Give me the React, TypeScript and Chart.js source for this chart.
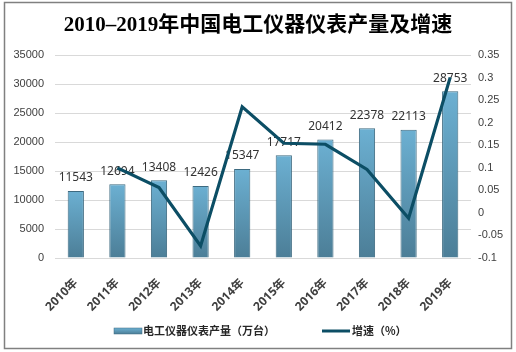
import React, { useEffect, useRef } from "react";
import { Chart, registerables } from "chart.js";

Chart.register(...registerables);

const title = "2010–2019年中国电工仪器仪表产量及增速";
const categories = ["2010年", "2011年", "2012年", "2013年", "2014年", "2015年", "2016年", "2017年", "2018年", "2019年"];
const output = [11543, 12694, 13408, 12426, 15347, 17717, 20412, 22378, 22113, 28753];
const growth = [null, 0.0997, 0.0562, -0.0732, 0.2351, 0.1544, 0.1521, 0.0963, -0.0118, 0.3003];
const barLabel = "电工仪器仪表产量（万台）";
const lineLabel = "增速（%）";

const LINE_COLOR = "#0c4e65";
const BAR_TOP = "#6cb0d2";
const BAR_BOTTOM = "#4c7e97";
const BAR_BORDER = "#3d6a80";

function makeGrad(ctx: CanvasRenderingContext2D, y0: number, y1: number) {
  const g = ctx.createLinearGradient(0, y0, 0, y1);
  g.addColorStop(0, BAR_TOP);
  g.addColorStop(1, BAR_BOTTOM);
  return g;
}

const decor = {
  id: "decor",
  beforeDraw(chart: any) {
    const ctx = chart.ctx;
    ctx.save();
    ctx.fillStyle = "#ffffff";
    ctx.fillRect(0, 0, chart.width, chart.height);
    ctx.restore();
  },
  afterDatasetDraw(chart: any, args: any) {
    if (args.meta.type !== "bar") return;
    const ctx = chart.ctx;
    ctx.save();
    ctx.font = "12px 'Noto Sans'";
    ctx.fillStyle = "#333333";
    ctx.textAlign = "center";
    ctx.textBaseline = "middle";
    args.meta.data.forEach((el: any, i: number) => {
      ctx.fillText(String(output[i]), el.x, el.y - 13);
    });
    ctx.restore();
  },
  afterDraw(chart: any) {
    const ctx = chart.ctx;
    ctx.save();
    // border
    ctx.strokeStyle = "#808080";
    ctx.lineWidth = 1.5;
    ctx.strokeRect(4.5, 2.5, 507, 346);
    // title
    ctx.fillStyle = "#000000";
    ctx.font = "bold 21px 'Liberation Serif', 'Noto Sans CJK SC'";
    ctx.textAlign = "center";
    ctx.textBaseline = "middle";
    ctx.fillText(title, 258, 26);
    // legend
    ctx.fillStyle = makeGrad(ctx, 328, 334);
    ctx.fillRect(114, 328, 28, 6);
    ctx.strokeStyle = BAR_BORDER;
    ctx.lineWidth = 0.5;
    ctx.strokeRect(114, 328, 28, 6);
    ctx.font = "bold 11px 'Noto Sans CJK SC'";
    ctx.fillStyle = "#262626";
    ctx.textAlign = "left";
    ctx.fillText(barLabel, 143, 331);
    ctx.strokeStyle = LINE_COLOR;
    ctx.lineWidth = 3;
    ctx.beginPath();
    ctx.moveTo(322, 331);
    ctx.lineTo(350, 331);
    ctx.stroke();
    ctx.fillText(lineLabel, 352, 331);
    ctx.restore();
  },
};

export default function App() {
  const ref = useRef<HTMLCanvasElement | null>(null);
  useEffect(() => {
    document.body.style.margin = "0";
    const canvas = ref.current!;
    const chart = new Chart(canvas, {
      type: "bar",
      data: {
        labels: categories,
        datasets: [
          {
            type: "line",
            label: lineLabel,
            data: growth as any,
            yAxisID: "y1",
            borderColor: LINE_COLOR,
            backgroundColor: LINE_COLOR,
            borderWidth: 3.2,
            pointRadius: 0,
            tension: 0,
            borderJoinStyle: "miter",
            order: 0,
          } as any,
          {
            type: "bar",
            label: barLabel,
            data: output,
            yAxisID: "y",
            backgroundColor: (c: any) => {
              const chart = c.chart;
              if (!chart.chartArea || c.raw == null) return BAR_TOP;
              const yTop = chart.scales.y.getPixelForValue(c.raw);
              const yBot = chart.scales.y.getPixelForValue(0);
              return makeGrad(chart.ctx, yTop, yBot);
            },
            borderColor: BAR_BORDER,
            borderWidth: 1,
            categoryPercentage: 1,
            barPercentage: 0.39,
            order: 1,
          } as any,
        ],
      },
      options: {
        responsive: false,
        animation: false,
        devicePixelRatio: 1,
        layout: { padding: { top: 55, left: 0, right: 0, bottom: 0 } },
        plugins: {
          legend: { display: false },
          title: { display: false },
          tooltip: { enabled: false },
        },
        scales: {
          x: {
            grid: { display: false },
            border: { display: false },
            ticks: {
              minRotation: 45,
              maxRotation: 45,
              padding: 10,
              color: "#404040",
              font: { family: "'Noto Sans', 'Noto Sans CJK SC'", size: 12, weight: "bold" },
            },
            afterFit: (s: any) => {
              s.height = 94;
            },
          },
          y: {
            position: "left",
            min: 0,
            max: 35000,
            ticks: {
              stepSize: 5000,
              padding: 11,
              color: "#404040",
              font: { family: "'Liberation Sans'", size: 11 },
              callback: (v: any) => String(v),
            },
            grid: { color: "#d9d9d9", drawTicks: false },
            border: { display: false },
            afterFit: (s: any) => {
              s.width = 55;
            },
          },
          y1: {
            position: "right",
            min: -0.1,
            max: 0.35,
            ticks: {
              stepSize: 0.05,
              padding: 7,
              color: "#404040",
              font: { family: "'Liberation Sans'", size: 11 },
              callback: (v: any) => String(parseFloat(Number(v).toFixed(2))),
            },
            grid: { display: false, drawTicks: false },
            border: { display: false },
            afterFit: (s: any) => {
              s.width = 45;
            },
          },
        },
      },
      plugins: [decor],
    });
    return () => chart.destroy();
  }, []);
  return (
    <canvas
      ref={ref}
      width={516}
      height={352}
      style={{ position: "fixed", left: 0, top: 0, width: 516, height: 352 }}
    />
  );
}
